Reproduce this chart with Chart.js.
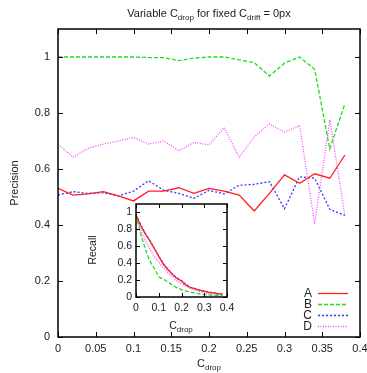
<!DOCTYPE html>
<html>
<head>
<meta charset="utf-8">
<script src="https://cdn.jsdelivr.net/npm/chart.js@4.4.1/dist/chart.umd.min.js"></script>
<style>
  html, body { margin: 0; padding: 0; background: #fff; }
  #wrap { position: relative; width: 367px; height: 373px; font-family: "Liberation Sans", Arial, sans-serif; color: #222; }
  #main { position: absolute; left: 0; top: 0; }
  #inset { position: absolute; left: 80px; top: 195px; }
  .lbl { position: absolute; white-space: nowrap; font-size: 11px; line-height: 1; transform: translate(-50%, -50%); }
  .rot { transform: translate(-50%, -50%) rotate(-90deg); }
  .lbl sub { font-size: 8px; vertical-align: baseline; position: relative; top: 3px; }
</style>
</head>
<body>
<div id="wrap">
  <canvas id="main" width="367" height="373"></canvas>
  <canvas id="inset" width="155" height="140"></canvas>
  <div class="lbl" style="left:209px; top:13px;">Variable C<sub>drop</sub> for fixed C<sub>drift</sub> = 0px</div>
  <div class="lbl rot" style="left:14px; top:183px;">Precision</div>
  <div class="lbl" style="left:209px; top:363px;">C<sub>drop</sub></div>
  <div class="lbl rot" style="left:92px; top:250px; font-size:10.5px;">Recall</div>
  <div class="lbl" style="left:181px; top:325px; font-size:10.5px;">C<sub>drop</sub></div>
</div>
<script>
// C_drop values (x)
var cdrop = [0, 0.02, 0.04, 0.06, 0.08, 0.10, 0.12, 0.14, 0.16, 0.18,
             0.20, 0.22, 0.24, 0.26, 0.28, 0.30, 0.32, 0.34, 0.36, 0.38];
var seriesNames = ["A", "B", "C", "D"];

// precision per series
var precA = [0.531, 0.507, 0.511, 0.519, 0.504, 0.486, 0.521, 0.521, 0.533, 0.513,
             0.531, 0.521, 0.507, 0.450, 0.513, 0.579, 0.549, 0.583, 0.567, 0.650];
var precB = [1.0, 1.0, 1.0, 1.0, 1.0, 1.0, 0.998, 0.998, 0.987, 0.996,
             1.0, 1.0, 0.99, 0.98, 0.932, 0.978, 1.0, 0.956, 0.672, 0.833];
var precC = [0.507, 0.519, 0.513, 0.515, 0.504, 0.521, 0.558, 0.524, 0.513, 0.495,
             0.524, 0.511, 0.542, 0.545, 0.555, 0.458, 0.572, 0.567, 0.456, 0.434];
var precD = [0.689, 0.642, 0.674, 0.689, 0.700, 0.713, 0.689, 0.700, 0.665, 0.695,
             0.686, 0.748, 0.642, 0.715, 0.761, 0.732, 0.755, 0.404, 0.775, 0.434];

// recall per series (inset)
var recA = [0.97, 0.85, 0.75, 0.67, 0.575, 0.48, 0.39, 0.325, 0.27, 0.22,
            0.19, 0.14, 0.11, 0.10, 0.08, 0.07, 0.055, 0.05, 0.04, 0.035];
var recB = [0.97, 0.75, 0.575, 0.43, 0.34, 0.24, 0.21, 0.18, 0.14, 0.11,
            0.087, 0.07, 0.055, 0.048, 0.036, 0.028, 0.024, 0.02, 0.02, 0.02];
var recC = [0.97, 0.86, 0.755, 0.67, 0.58, 0.485, 0.395, 0.33, 0.27, 0.225,
            0.195, 0.145, 0.115, 0.10, 0.08, 0.07, 0.06, 0.05, 0.04, 0.035];
var recD = [0.96, 0.80, 0.67, 0.57, 0.48, 0.41, 0.35, 0.29, 0.24, 0.19,
            0.16, 0.13, 0.10, 0.08, 0.06, 0.05, 0.04, 0.035, 0.03, 0.03];

var styles = [
  { color: "#ff1f1f", dash: [] },
  { color: "#1edc1e", dash: [4, 2] },
  { color: "#3535ff", dash: [2, 2] },
  { color: "#ff40ff", dash: [1, 1.5] }
];

function pts(ys) {
  return cdrop.map(function (x, i) { return { x: x, y: ys[i] }; });
}
function makeSets(list) {
  return list.map(function (ys, i) {
    return {
      label: seriesNames[i],
      data: pts(ys),
      borderColor: styles[i].color,
      borderDash: styles[i].dash,
      borderWidth: 1.3,
      pointRadius: 0,
      fill: false,
      tension: 0
    };
  });
}
function fmt(v) { return String(parseFloat(Number(v).toFixed(3))); }

// gnuplot-like frame with inward ticks on all four sides
var gnuFrame = {
  id: "gnuFrame",
  beforeDatasetsDraw: function (chart, args, opts) {
    if (!opts.fill) return;
    var a = chart.chartArea, ctx = chart.ctx;
    ctx.save();
    ctx.fillStyle = "#fff";
    ctx.fillRect(a.left, a.top, a.right - a.left, a.bottom - a.top);
    ctx.restore();
  },
  afterDatasetsDraw: function (chart, args, opts) {
    var ctx = chart.ctx, a = chart.chartArea, sx = chart.scales.x, sy = chart.scales.y;
    var L = opts.len || 5;
    ctx.save();
    ctx.strokeStyle = "#000";
    ctx.lineWidth = 1;
    ctx.setLineDash([]);
    ctx.beginPath();
    sx.ticks.forEach(function (t) {
      var p = Math.round(sx.getPixelForValue(t.value)) + 0.5;
      ctx.moveTo(p, a.bottom); ctx.lineTo(p, a.bottom - L);
      ctx.moveTo(p, a.top); ctx.lineTo(p, a.top + L);
    });
    sy.ticks.forEach(function (t) {
      var p = Math.round(sy.getPixelForValue(t.value)) + 0.5;
      ctx.moveTo(a.left, p); ctx.lineTo(a.left + L, p);
      ctx.moveTo(a.right, p); ctx.lineTo(a.right - L, p);
    });
    ctx.stroke();
    ctx.lineWidth = 1.5;
    ctx.strokeRect(a.left, a.top, a.right - a.left, a.bottom - a.top);
    ctx.restore();
  }
};

// key in the lower right corner, gnuplot style
var gnuKey = {
  id: "gnuKey",
  afterDatasetsDraw: function (chart, args, opts) {
    if (!opts.show) return;
    var ctx = chart.ctx, a = chart.chartArea;
    ctx.save();
    ctx.font = "12px 'Liberation Sans', Arial, sans-serif";
    ctx.textAlign = "right";
    ctx.textBaseline = "middle";
    chart.data.datasets.forEach(function (ds, i) {
      var y = a.bottom - 43.5 + i * 11;
      ctx.fillStyle = "#222";
      ctx.fillText(ds.label, a.right - 48, y + 0.5);
      ctx.strokeStyle = ds.borderColor;
      ctx.lineWidth = 1.3;
      ctx.setLineDash(ds.borderDash);
      ctx.beginPath();
      ctx.moveTo(a.right - 42, y);
      ctx.lineTo(a.right - 12, y);
      ctx.stroke();
    });
    ctx.restore();
  }
};

function axes(cfg) {
  return {
    x: {
      type: "linear", min: 0, max: 0.4,
      grid: { display: false, drawTicks: false },
      border: { display: false },
      ticks: { stepSize: cfg.xStep, padding: cfg.xPad, color: "#222", includeBounds: false,
               font: { family: "'Liberation Sans', Arial, sans-serif", size: cfg.font },
               maxRotation: 0, autoSkip: false, callback: fmt },
      afterFit: function (s) { s.height = cfg.xH; s.paddingLeft = 0; s.paddingRight = 0; }
    },
    y: {
      type: "linear", min: 0, max: 1.1,
      grid: { display: false, drawTicks: false },
      border: { display: false },
      ticks: { stepSize: 0.2, padding: cfg.yPad, color: "#222", includeBounds: false,
               font: { family: "'Liberation Sans', Arial, sans-serif", size: cfg.font },
               autoSkip: false, callback: fmt },
      afterBuildTicks: function (s) { s.ticks = s.ticks.filter(function (t) { return t.value <= 1.0001; }); },
      afterFit: function (s) { s.width = cfg.yW; s.paddingTop = 0; s.paddingBottom = 0; }
    }
  };
}

new Chart(document.getElementById("main"), {
  type: "line",
  data: { datasets: makeSets([precA, precB, precC, precD]) },
  options: {
    responsive: false, animation: false, devicePixelRatio: 1,
    layout: { padding: { left: 0, top: 29, right: 7, bottom: 0 } },
    scales: axes({ xStep: 0.05, xPad: 5, yPad: 8, font: 11, xH: 36, yW: 58 }),
    plugins: { legend: { display: false }, tooltip: { enabled: false },
               gnuFrame: { len: 5 }, gnuKey: { show: true } }
  },
  plugins: [gnuFrame, gnuKey]
});

new Chart(document.getElementById("inset"), {
  type: "line",
  data: { datasets: makeSets([recA, recB, recC, recD]) },
  options: {
    responsive: false, animation: false, devicePixelRatio: 1,
    layout: { padding: { left: 0, top: 9, right: 8, bottom: 0 } },
    scales: axes({ xStep: 0.1, xPad: 5, yPad: 4, font: 10.5, xH: 38, yW: 56 }),
    plugins: { legend: { display: false }, tooltip: { enabled: false },
               gnuFrame: { len: 4, fill: true }, gnuKey: { show: false } }
  },
  plugins: [gnuFrame, gnuKey]
});
</script>
</body>
</html>
